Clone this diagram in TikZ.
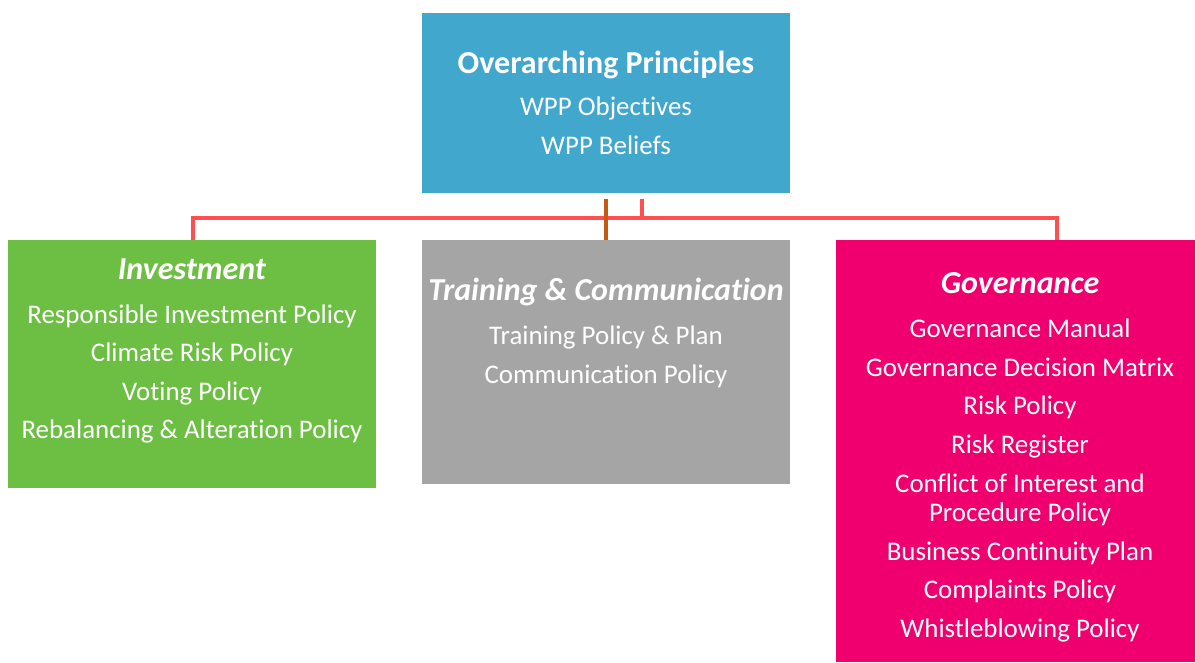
\documentclass[tikz,border=0pt]{standalone}
\usepackage{fontspec}
\setmainfont[Ligatures=NoCommon]{Carlito}
\definecolor{cblue}{RGB}{65,167,205}
\definecolor{cgreen}{RGB}{109,191,68}
\definecolor{cgray}{RGB}{165,165,165}
\definecolor{cpink}{RGB}{240,0,111}
\definecolor{cred}{RGB}{255,80,80}
\definecolor{corange}{RGB}{197,90,17}
\begin{document}
\begin{tikzpicture}[x=1pt,y=-1pt,
  panel/.style={draw=none,inner sep=0pt,anchor=north west},
  txt/.style={text=white,anchor=center,inner sep=0pt,text height=0.72em,text depth=0.2em,yshift=-6pt},
  head/.style={txt,font=\fontsize{32}{34}\selectfont\bfseries\itshape},
  tophead/.style={txt,font=\fontsize{32}{34}\selectfont\bfseries},
  item/.style={txt,font=\fontsize{26.9}{30}\selectfont},
  link/.style={draw=cred,line width=4pt},
]
\useasboundingbox (0,0) rectangle (1195,662);
% boxes
\fill[cblue] (422,13) rectangle (790,193);
\node[panel,minimum width=368pt,minimum height=180pt] (top) at (422,13) {};
\fill[cgreen] (8,240) rectangle (376,488);
\node[panel,minimum width=368pt,minimum height=248pt] (inv) at (8,240) {};
\fill[cgray] (422,240) rectangle (790,484);
\node[panel,minimum width=368pt,minimum height=244pt] (trn) at (422,240) {};
\fill[cpink] (836,240) rectangle (1195,662);
\node[panel,minimum width=359pt,minimum height=422pt] (gov) at (836,240) {};
% connectors
\coordinate (bar) at (606,218);
\coordinate (lj) at (193,218);
\coordinate (rj) at (1057,218);
\coordinate (sj) at (642,218);
\coordinate (st) at (642,199);
\coordinate (ot) at (606,199);
\draw[link] (lj |- inv.north) -- (lj) -- (rj) -- (rj |- gov.north);
\draw[link] (st) -- (sj);
\draw[draw=corange,line width=4pt] (ot) -- (bar |- trn.north);
% top text
\node[tophead] (t0) at (606,65) {Overarching Principles};
\node[item] (t1) at (606,107) {WPP Objectives};
\node[item] (t2) at (606,146) {WPP Beliefs};
% investment
\node[head] (i0) at (192,271) {Investment};
\node[item] (i1) at (192,315) {Responsible Investment Policy};
\node[item] (i2) at (192,353) {Climate Risk Policy};
\node[item] (i3) at (192,392) {Voting Policy};
\node[item] (i4) at (192,430) {Rebalancing \& Alteration Policy};
% training
\node[head] (r0) at (606,292) {Training \& Communication};
\node[item] (r1) at (606,336) {Training Policy \& Plan};
\node[item] (r2) at (606,375) {Communication Policy};
% governance
\node[head] (g0) at (1020,285) {Governance};
\node[item] (g1) at (1020,329) {Governance Manual};
\node[item] (g2) at (1020,368) {Governance Decision Matrix};
\node[item] (g3) at (1020,406) {Risk Policy};
\node[item] (g4) at (1020,445) {Risk Register};
\node[item] (g5) at (1020,484) {Conflict of Interest and};
\node[item] (g5b) at (1020,513) {Procedure Policy};
\node[item] (g6) at (1020,552) {Business Continuity Plan};
\node[item] (g7) at (1020,590) {Complaints Policy};
\node[item] (g8) at (1020,629) {Whistleblowing Policy};
\end{tikzpicture}
\end{document}
